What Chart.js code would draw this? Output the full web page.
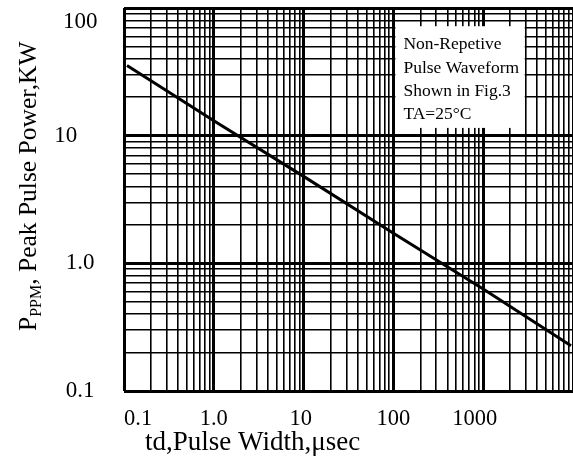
<!DOCTYPE html>
<html>
<head>
<meta charset="utf-8">
<script src="https://cdn.jsdelivr.net/npm/chart.js@4.4.1/dist/chart.umd.min.js"></script>
<style>
  html, body { margin: 0; padding: 0; background: #fff; }
  #wrap { width: 573px; height: 461px; position: relative; }
</style>
</head>
<body>
<div id="wrap"><canvas id="chart"></canvas></div>
<script>
/* ===== DATA ===== */
const pulseWidth = [0.108, 1, 10, 100, 1000, 9500];        // td, usec
const peakPower  = [35.5, 13.1, 4.8, 1.72, 0.63, 0.226];   // Ppm, kW
const xDecades = [0.1, 1, 10, 100, 1000];
const yDecades = [0.1, 1, 10];
const xTickLabels = ['0.1', '1.0', '10', '100', '1000'];
const yTickLabels = ['0.1', '1.0', '10', '100'];
const noteLines = ['Non-Repetive', 'Pulse Waveform', 'Shown in Fig.3', 'TA=25°C'];

const SERIF = '"Liberation Serif", "Times New Roman", serif';

/* ===== HELPERS ===== */
const sameValue = (a, b) => Math.abs(Math.log10(a) - Math.log10(b)) < 1e-6;
const isDecade = v => Math.abs(Math.log10(v) - Math.round(Math.log10(v))) < 1e-6;

// every 1..9 line of each decade, plus the closing decade
function gridTicks(decades, last) {
  const out = [];
  decades.forEach(d => {
    for (let m = 1; m < 10; m++) out.push({ value: +(d * m).toPrecision(6) });
  });
  out.push({ value: last });
  return out;
}

// the original sheet nudges a few labels off their grid line
const xNudge = ['     ', '', '', '', ''];      // leading spaces push right
const xTrail = ['', '', ' ', '', '   '];       // trailing spaces push left
const yTrail = ['', '', '     ', ''];

/* ===== NOTE BOX + AXIS TITLES ===== */
const extras = {
  id: 'extras',
  beforeDatasetsDraw(chart) {
    const { ctx, scales: { x, y } } = chart;
    const left = x.getPixelForValue(100) + 2;
    const right = x.getPixelForValue(2900);
    const top = y.getPixelForValue(72);
    const bottom = y.getPixelForValue(11.5);
    ctx.save();
    ctx.fillStyle = '#fff';
    ctx.fillRect(left, top, right - left, bottom - top);
    ctx.fillStyle = '#000';
    ctx.font = '17.5px ' + SERIF;
    ctx.textBaseline = 'alphabetic';
    noteLines.forEach((t, i) => ctx.fillText(t, left + 8, top + 23 + i * 23.3));
    ctx.restore();
  },
  afterDraw(chart) {
    const { ctx } = chart;
    ctx.save();
    ctx.fillStyle = '#000';
    ctx.textBaseline = 'alphabetic';
    // x title
    ctx.font = '27px ' + SERIF;
    ctx.fillText('td,Pulse Width,\u03bcsec', 145, 450);
    // y title with subscript
    ctx.translate(36, 331);
    ctx.rotate(-Math.PI / 2);
    let px = 0;
    ctx.font = '25.5px ' + SERIF;
    ctx.fillText('P', px, 0);
    px += ctx.measureText('P').width;
    ctx.font = '16px ' + SERIF;
    ctx.fillText('PPM', px, 5);
    px += ctx.measureText('PPM').width;
    ctx.font = '25.5px ' + SERIF;
    ctx.fillText(', Peak Pulse Power,KW', px, 0);
    ctx.restore();
  }
};

/* ===== CHART ===== */
new Chart(document.getElementById('chart'), {
  type: 'line',
  data: {
    datasets: [{
      data: pulseWidth.map((v, i) => ({ x: v, y: peakPower[i] })),
      borderColor: '#000',
      borderWidth: 3,
      pointRadius: 0,
      tension: 0,
    }]
  },
  options: {
    responsive: true,
    maintainAspectRatio: false,
    animation: false,
    layout: { padding: { top: 8, right: 0, left: 0, bottom: 0 } },
    plugins: { legend: { display: false }, tooltip: { enabled: false } },
    scales: {
      x: {
        type: 'logarithmic',
        min: 0.1,
        max: 10000,
        afterBuildTicks: s => { s.ticks = gridTicks(xDecades, 10000); },
        afterFit: s => { s.height = 70; s.paddingLeft = 0; s.paddingRight = 0; },
        ticks: {
          autoSkip: false,
          maxRotation: 0,
          padding: 15,
          color: '#000',
          font: { family: SERIF, size: 22.5 },
          callback: v => {
            const i = xDecades.findIndex(d => sameValue(d, v));
            return i >= 0 ? xNudge[i] + xTickLabels[i] + xTrail[i] : '';
          },
        },
        grid: {
          color: '#000',
          drawTicks: false,
          lineWidth: c => isDecade(c.tick.value) ? 3 : 1.6,
        },
        border: { display: false },
      },
      y: {
        type: 'logarithmic',
        min: 0.1,
        max: 100,
        afterBuildTicks: s => { s.ticks = gridTicks(yDecades, 100); },
        afterFit: s => { s.width = 124; s.paddingTop = 0; s.paddingBottom = 0; },
        ticks: {
          autoSkip: false,
          padding: 18,
          crossAlign: 'center',
          color: '#000',
          font: { family: SERIF, size: 23 },
          callback: v => {
            const i = yDecades.concat([100]).findIndex(d => sameValue(d, v));
            if (i < 0) return '';
            // top label sits below the frame edge in the original
            return i === yTickLabels.length - 1 ? ['', yTickLabels[i]] : yTickLabels[i] + yTrail[i];
          },
        },
        grid: {
          color: '#000',
          drawTicks: false,
          lineWidth: c => isDecade(c.tick.value) ? 3 : 1.6,
        },
        border: { display: false },
      }
    }
  },
  plugins: [extras]
});
</script>
</body>
</html>
